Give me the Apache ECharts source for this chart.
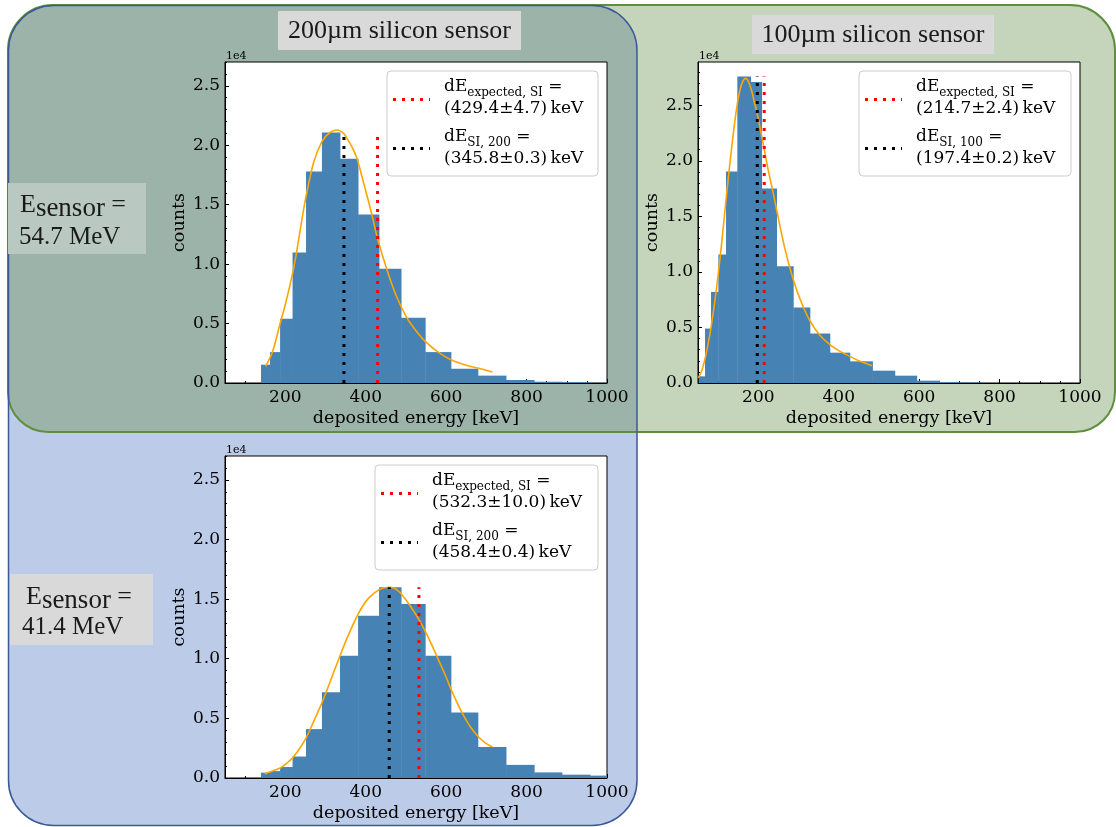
<!DOCTYPE html>
<html><head><meta charset="utf-8">
<script src="https://cdn.jsdelivr.net/npm/echarts@6/dist/echarts.min.js"></script>
<style>html,body{margin:0;padding:0;background:#fff}#c{width:1116px;height:827px}</style>
</head><body><div id="c"></div>
<script>
// ---------------- data ----------------
const xTicks = [200, 400, 600, 800, 1000];                 // keV
const yTicks = [0, 5000, 10000, 15000, 20000, 25000];       // counts (labels shown x1e4)
const xMin = 50, xMax = 1000;

// 200 um sensor, E = 54.7 MeV
const binEdges200 = [139.5,162,187,218,251.5,291,336,381,433,488,548,612,679,749,819,888,958,1028];
const counts200_547 = [1540,2600,5400,10970,17800,21060,18870,14170,9600,5490,2600,1200,620,250,110,60,30];
const fit200_547_x = [151,168,187,200,218,228,240,251,270,291,310,329,345,353,365,378,395,415,429,452,475,502,525,548,580,612,650,679,715];
const fit200_547_y = [1400,2600,5000,6600,9200,11000,13500,15600,18500,20300,21050,21280,21000,20600,19900,18900,16800,14200,12200,9600,7400,5500,4400,3500,2600,1960,1500,1260,920];

// 100 um sensor, E = 54.7 MeV
const binEdges100 = [52,67.5,82.4,100.6,119.7,147.8,181,208.3,245.5,287,328.4,378,427.7,484,539.5,594,651,705,760];
const counts100_547 = [600,4900,8200,11570,19050,27600,27100,17500,10500,6800,4450,2730,1950,1110,660,210,60,40];
const fit100_547_x = [51,60,67.5,75,82.4,92,100.6,110,119.7,130,138,146,154.5,162,168.5,176,183.4,190,197.5,206,214.9,225,237,245.5,266,287,307.7,328.4,353,378,403,427.7,452.6,483];
const fit100_547_y = [450,1200,2200,3500,5000,7400,9900,13000,16500,20000,22500,24700,26400,27200,27430,27100,26300,25300,24200,22700,21000,19100,17100,15600,12100,9300,7200,5600,4300,3450,2850,2400,1950,1560];

// 200 um sensor, E = 41.4 MeV
const counts200_414 = [450,580,920,1800,4100,7200,10250,13600,16000,14600,10250,5500,2600,1100,470,280,200];
const fit200_414_x = [149,170,187,200,218,235,251.5,270,291,310,332,355,381,405,431,446,460.6,475,488,505,519,532,548,565,585,600,612,628,643,660,679,697,715];
const fit200_414_y = [340,600,840,1150,1680,2450,3350,4700,6300,7950,9900,11850,13750,15000,15750,15950,16000,15850,15450,14700,14000,13300,12300,11100,9600,8450,7450,6250,5250,4300,3500,2950,2600];

const expectedE = [429.4, 214.7, 532.3];
const measuredE = [345.8, 197.4, 458.4];
const expectedLbl = ['(429.4±4.7)', '(214.7±2.4)', '(532.3±10.0)'];
const measuredLbl = ['(345.8±0.3)', '(197.4±0.2)', '(458.4±0.4)'];
const measuredSub = ['SI, 200', 'SI, 100', 'SI, 200'];
const yMaxes = [27000, 28900, 27000];
const sensorTitles = ['200µm silicon sensor', '100µm silicon sensor'];
const energyLabels = ['54.7 MeV', '41.4 MeV'];

// ---------------- layout ----------------
const SERIF = 'DejaVu Serif';
const TIMES = 'Liberation Serif';
const grids = [
  {left:225, top:62, width:382, height:321},
  {left:698, top:62, width:382, height:321},
  {left:225, top:456, width:382, height:322}
];
const legendBoxes = [
  {x:387, y:71, w:211, h:105},
  {x:859, y:71, w:212, h:105},
  {x:375, y:465, w:223, h:105}
];
const panels = [
  {edges: binEdges200, counts: counts200_547, fx: fit200_547_x, fy: fit200_547_y},
  {edges: binEdges100, counts: counts100_547, fx: fit100_547_x, fy: fit100_547_y},
  {edges: binEdges200, counts: counts200_414, fx: fit200_414_x, fy: fit200_414_y}
];

const chart = echarts.init(document.getElementById('c'));
const xAxes = [], yAxes = [], series = [], graphics = [];

function range(a, b, s){ const r=[]; for(let v=a; v<=b+1e-9; v+=s) r.push(Math.round(v*1000)/1000); return r; }

panels.forEach((p, i) => {
  const ymax = yMaxes[i];
  xAxes.push({
    type:'value', gridIndex:i, min:xMin, max:xMax, position:'bottom',
    axisLine:{show:true, onZero:false, lineStyle:{color:'#000', width:1}},
    axisTick:{show:true, inside:true, length:4, customValues:xTicks, lineStyle:{color:'#000'}},
    axisLabel:{customValues:xTicks, fontFamily:SERIF, fontSize:17, color:'#000', margin:6,
      formatter: v => String(v)},
    splitLine:{show:false},
    name:'deposited energy [keV]', nameLocation:'middle', nameGap:26,
    nameTextStyle:{fontFamily:SERIF, fontSize:17.5, color:'#000'}
  });
  xAxes.push({
    type:'value', gridIndex:i, min:xMin, max:xMax, position:'bottom',
    axisLine:{show:false}, axisLabel:{show:false}, splitLine:{show:false},
    axisTick:{show:true, inside:true, length:2, customValues:range(50,1000,50), lineStyle:{color:'#000'}}
  });
  yAxes.push({
    type:'value', gridIndex:i, min:0, max:ymax, position:'left',
    axisLine:{show:true, onZero:false, lineStyle:{color:'#000', width:1}},
    axisTick:{show:true, inside:true, length:4, customValues:yTicks, lineStyle:{color:'#000'}},
    axisLabel:{customValues:yTicks, fontFamily:SERIF, fontSize:17, color:'#000', margin:5,
      formatter: v => (v/1e4).toFixed(1)},
    splitLine:{show:false},
    name:'counts', nameLocation:'middle', nameGap:37,
    nameTextStyle:{fontFamily:SERIF, fontSize:17.5, color:'#000'}
  });
  yAxes.push({
    type:'value', gridIndex:i, min:0, max:ymax, position:'left',
    axisLine:{show:false}, axisLabel:{show:false}, splitLine:{show:false},
    axisTick:{show:true, inside:true, length:2, customValues:range(0, ymax, 1000), lineStyle:{color:'#000'}}
  });
  const xi = 2*i, yi = 2*i;
  series.push({
    type:'custom', xAxisIndex:xi, yAxisIndex:yi, clip:true, z:2,
    data: p.counts.map((c,k) => [p.edges[k], p.edges[k+1], c]),
    encode:{x:[0,1], y:2},
    renderItem:(params, api) => {
      const a = api.coord([api.value(0), 0]);
      const b = api.coord([api.value(1), api.value(2)]);
      return {type:'rect', shape:{x:a[0], y:b[1], width:b[0]-a[0]+0.4, height:a[1]-b[1]},
        style:{fill:'#4682b4'}};
    }
  });
  series.push({
    type:'line', xAxisIndex:xi, yAxisIndex:yi, smooth:0.3, symbol:'none', clip:true, z:3,
    data: p.fx.map((x,k) => [x, p.fy[k]]),
    lineStyle:{color:'#ffa500', width:1.6}
  });
  const top = Math.max(...p.counts);
  series.push({
    type:'line', xAxisIndex:xi, yAxisIndex:yi, symbol:'none', z:4,
    data:[[expectedE[i],0],[expectedE[i],top]],
    lineStyle:{color:'#ff0000', width:3, type:[3,6]}
  });
  series.push({
    type:'line', xAxisIndex:xi, yAxisIndex:yi, symbol:'none', z:4,
    data:[[measuredE[i],0],[measuredE[i],top]],
    lineStyle:{color:'#000000', width:3, type:[3,6]}
  });

  // legend
  const L = legendBoxes[i];
  graphics.push({type:'rect', z:100, shape:{x:L.x, y:L.y, width:L.w, height:L.h, r:4},
    style:{fill:'rgba(255,255,255,0.85)', stroke:'#cccccc', lineWidth:1}});
  graphics.push({type:'line', z:101, shape:{x1:L.x+6, y1:L.y+28.5, x2:L.x+43, y2:L.y+28.5},
    style:{stroke:'#ff0000', lineWidth:3, lineDash:[3,6]}});
  graphics.push({type:'line', z:101, shape:{x1:L.x+6, y1:L.y+77.5, x2:L.x+43, y2:L.y+77.5},
    style:{stroke:'#000000', lineWidth:3, lineDash:[3,6]}});
  const rich = {
    m:{fontSize:17, fontFamily:SERIF, lineHeight:24, verticalAlign:'middle', fill:'#000'},
    s:{fontSize:12, fontFamily:SERIF, lineHeight:16, verticalAlign:'bottom', fill:'#000'}
  };
  graphics.push({type:'text', z:101, x:L.x+57, y:L.y+16,
    style:{text:'{m|dE}{s|expected, SI}{m| =}', rich, align:'left', verticalAlign:'middle'}});
  graphics.push({type:'text', z:101, x:L.x+57, y:L.y+38,
    style:{text:expectedLbl[i]+'\u2009keV', fontSize:17, fontFamily:SERIF, fill:'#000', align:'left', verticalAlign:'middle'}});
  graphics.push({type:'text', z:101, x:L.x+57, y:L.y+66,
    style:{text:'{m|dE}{s|'+measuredSub[i]+'}{m| =}', rich, align:'left', verticalAlign:'middle'}});
  graphics.push({type:'text', z:101, x:L.x+57, y:L.y+88,
    style:{text:measuredLbl[i]+'\u2009keV', fontSize:17, fontFamily:SERIF, fill:'#000', align:'left', verticalAlign:'middle'}});
  // 1e4 offset text
  graphics.push({type:'text', z:101, x:grids[i].left+1, y:grids[i].top-6,
    style:{text:'1e4', fontSize:11, fontFamily:SERIF, fill:'#000', align:'left', verticalAlign:'middle'}});
});

// background panels
const bg = [
  {type:'rect', z:-10, shape:{x:8, y:5, width:629, height:821, r:45}, style:{fill:'#bccbe8'}},
  {type:'rect', z:-10, shape:{x:8, y:5, width:1107, height:427, r:[45,45,40,40]}, style:{fill:'#c4d5bb'}},
  {type:'rect', z:-9, shape:{x:8, y:5, width:629, height:427, r:[45,45,0,40]}, style:{fill:'#9bb3a9'}},
  {type:'rect', z:-8, shape:{x:8, y:5, width:1107, height:427, r:[45,45,40,40]}, style:{fill:'none', stroke:'#5f8f3e', lineWidth:2}},
  {type:'rect', z:-8, shape:{x:8.5, y:5.5, width:628.5, height:820, r:45}, style:{fill:'none', stroke:'#3b5998', lineWidth:1.5}},
  // sensor titles
  {type:'rect', z:-5, shape:{x:278, y:11, width:243, height:39}, style:{fill:'#d9d9d9'}},
  {type:'text', z:-4, x:399.5, y:31, style:{text:sensorTitles[0], fontFamily:TIMES, fontSize:26, fill:'#1a1a1a', align:'center', verticalAlign:'middle'}},
  {type:'rect', z:-5, shape:{x:752, y:15, width:242, height:39}, style:{fill:'#d9d9d9'}},
  {type:'text', z:-4, x:873, y:35, style:{text:sensorTitles[1], fontFamily:TIMES, fontSize:26, fill:'#1a1a1a', align:'center', verticalAlign:'middle'}},
  // energy labels
  {type:'rect', z:-5, shape:{x:8, y:183, width:138, height:71}, style:{fill:'#b9c9c1'}},
  {type:'rect', z:-5, shape:{x:10, y:574, width:143, height:71}, style:{fill:'#d9d9d9'}}
];
const sensRich = {
  e:{fontSize:26, fontFamily:TIMES, lineHeight:34, verticalAlign:'middle', fill:'#1a1a1a'},
  s:{fontSize:27, fontFamily:TIMES, lineHeight:26, verticalAlign:'bottom', fill:'#1a1a1a'}
};
bg.push({type:'text', z:-4, x:20, y:205, style:{text:'{e|E}{s|sensor}{e| =}', rich:sensRich, align:'left', verticalAlign:'middle'}});
bg.push({type:'text', z:-4, x:19, y:237, style:{text:energyLabels[0], fontFamily:TIMES, fontSize:25, fill:'#1a1a1a', align:'left', verticalAlign:'middle'}});
bg.push({type:'text', z:-4, x:26, y:597, style:{text:'{e|E}{s|sensor}{e| =}', rich:sensRich, align:'left', verticalAlign:'middle'}});
bg.push({type:'text', z:-4, x:22, y:627, style:{text:energyLabels[1], fontFamily:TIMES, fontSize:25, fill:'#1a1a1a', align:'left', verticalAlign:'middle'}});

chart.setOption({
  animation:false,
  backgroundColor:'#ffffff',
  grid: grids.map(g => Object.assign({show:true, backgroundColor:'#ffffff', borderColor:'#000', borderWidth:1, containLabel:false}, g)),
  xAxis: xAxes,
  yAxis: yAxes,
  series: series,
  graphic: bg.concat(graphics)
});
</script></body></html>
